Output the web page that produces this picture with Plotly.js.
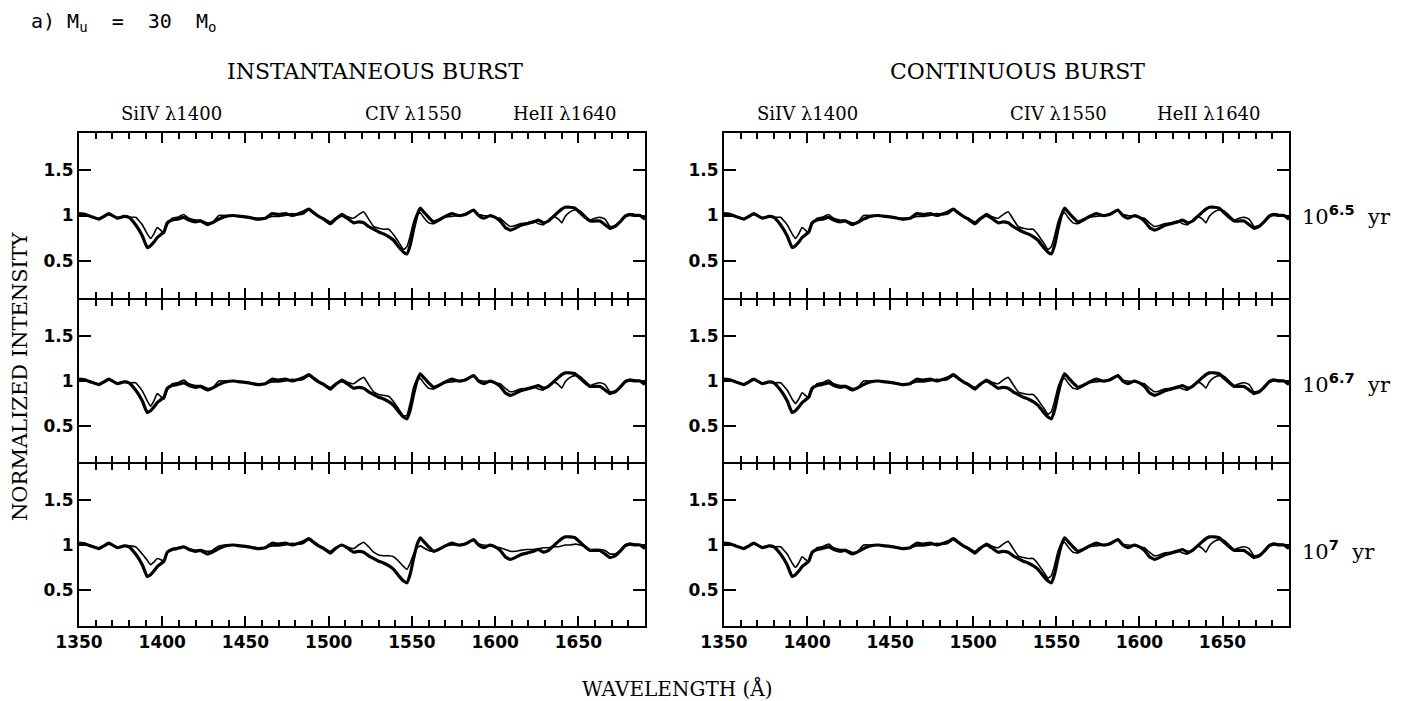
<!DOCTYPE html>
<html>
<head>
<meta charset="utf-8">
<script src="https://cdn.plot.ly/plotly-3.0.1.min.js"></script>
<style>
html,body{margin:0;padding:0;background:#fff;}
#chart{width:1403px;height:701px;}
</style>
</head>
<body>
<div id="chart"></div>
<script>
// ---- data ----
const wavelength = [
 1350,1354,1357,1362,1365,1368,1373,1377,1380,1384,
 1388,1391,1393,1395,1397,1399,1401,1403,1406,1409,
 1413,1416,1420,1423,1427,1430,1434,1438,1443,1447,
 1452,1457,1462,1466,1470,1474,1478,1482,1485,1488,
 1491,1494,1497,1501,1504,1508,1511,1515,1518,1521,
 1524,1527,1530,1533,1536,1539,1542,1545,1547,1549,
 1551,1553,1555,1557,1560,1563,1566,1570,1574,1578,
 1582,1587,1590,1593,1597,1600,1603,1606,1609,1612,
 1615,1619,1623,1626,1629,1632,1635,1638,1640,1642,
 1645,1648,1651,1654,1657,1660,1663,1666,1669,1672,
 1675,1678,1681,1684,1687,1690];

// thick curve (same in all panels)
const thickSpectrum = [
 1.02,1.01,0.99,0.96,0.99,1.02,0.97,0.99,0.98,0.90,
 0.78,0.65,0.67,0.71,0.76,0.79,0.82,0.92,0.95,0.96,
 0.98,0.95,0.93,0.94,0.90,0.92,0.96,0.99,1.00,0.99,
 0.98,0.96,0.97,1.02,1.01,1.02,1.00,1.02,1.04,1.07,
 1.03,0.99,0.96,0.91,0.96,1.00,0.97,0.92,0.93,0.92,
 0.88,0.85,0.82,0.80,0.77,0.73,0.66,0.60,0.58,0.68,
 0.85,1.00,1.08,1.04,0.98,0.93,0.95,0.99,1.02,1.00,
 1.01,1.06,1.00,0.97,1.00,0.98,0.94,0.87,0.84,0.86,
 0.89,0.91,0.93,0.95,0.92,0.94,0.99,1.04,1.07,1.09,
 1.09,1.08,1.03,0.98,0.94,0.94,0.94,0.90,0.86,0.88,
 0.93,0.99,1.01,1.00,1.00,0.96];

// thin curves
const thinInst65 = [
 1.01,1.01,0.99,0.97,0.99,1.01,0.98,0.99,0.98,0.98,
 0.90,0.80,0.75,0.80,0.87,0.84,0.81,0.90,0.97,0.98,
 1.01,0.97,0.95,0.95,0.92,0.92,1.00,1.00,1.00,0.99,
 0.98,0.97,0.97,0.99,0.99,1.00,1.02,1.01,1.02,1.06,
 1.02,0.99,0.97,0.93,0.97,1.02,0.99,0.97,1.01,1.04,
 0.96,0.88,0.86,0.85,0.85,0.79,0.71,0.63,0.66,0.78,
 0.93,1.01,1.03,0.98,0.92,0.91,0.94,0.98,0.99,1.00,
 1.02,1.06,1.01,1.00,0.99,0.98,0.97,0.92,0.88,0.89,
 0.91,0.92,0.94,0.91,0.90,0.95,0.99,0.96,0.92,0.99,
 1.04,1.06,1.05,1.00,0.95,0.97,0.98,0.96,0.88,0.89,
 0.93,1.00,1.02,1.01,1.00,0.97];

const thinInst67 = [
 1.01,1.01,0.99,0.97,0.99,1.01,0.98,0.99,0.98,0.98,
 0.89,0.78,0.72,0.78,0.86,0.83,0.80,0.90,0.97,0.98,
 1.01,0.97,0.95,0.95,0.92,0.92,1.00,1.00,1.00,0.99,
 0.98,0.97,0.97,0.99,0.99,1.00,1.02,1.01,1.02,1.06,
 1.02,0.99,0.97,0.93,0.97,1.02,0.99,0.97,1.01,1.04,
 0.96,0.88,0.85,0.84,0.83,0.77,0.69,0.61,0.62,0.76,
 0.93,1.01,1.03,0.98,0.92,0.91,0.94,0.98,0.99,1.00,
 1.02,1.06,1.01,1.00,0.99,0.98,0.97,0.92,0.88,0.89,
 0.91,0.92,0.94,0.91,0.90,0.95,0.99,0.96,0.92,0.99,
 1.04,1.06,1.05,1.00,0.95,0.97,0.98,0.96,0.88,0.89,
 0.93,1.00,1.02,1.01,1.00,0.97];

const thinInst7 = [
 1.01,1.01,0.99,0.97,0.99,1.01,0.98,0.99,0.99,0.98,
 0.90,0.83,0.78,0.81,0.85,0.84,0.82,0.92,0.96,0.97,
 0.98,0.96,0.94,0.95,0.93,0.94,0.99,1.00,1.00,0.99,
 0.98,0.97,0.97,0.99,0.99,1.00,1.02,1.01,1.02,1.06,
 1.02,0.99,0.97,0.93,0.97,1.00,0.98,0.96,1.00,1.03,
 0.98,0.92,0.89,0.88,0.88,0.87,0.82,0.76,0.73,0.80,
 0.90,0.97,0.99,0.97,0.94,0.93,0.95,0.99,1.00,1.00,
 1.02,1.05,1.01,1.00,0.99,0.98,0.97,0.95,0.93,0.93,
 0.94,0.95,0.95,0.96,0.97,0.97,0.98,0.98,0.99,1.00,
 1.00,1.01,1.00,0.98,0.95,0.95,0.95,0.94,0.90,0.90,
 0.94,1.00,1.02,1.01,1.00,0.97];

const thinCont = thinInst65; // continuous-burst panels look the same

const panelThin = [thinInst65, thinCont, thinInst67, thinCont, thinInst7, thinCont];
const yTickVals = [0.5,1,1.5];
const yTickText = ['0.5','1','1.5'];
const columnTitles = ['INSTANTANEOUS BURST','CONTINUOUS BURST'];
const lineLabels = ['SiIV \u03bb1400','CIV \u03bb1550','HeII \u03bb1640'];
const ageLabels = ['6.5','6.7','7'];

// ---- layout geometry ----
const W = 1403, H = 701;
const colPx = [[79,645],[724,1289]];
const rowPx = [[133,298],[300,462],[464,626]];
const fx = p => p / W;
const fy = p => 1 - p / H;

const traces = [];
const layout = {
  width: W, height: H,
  margin: {l:0, r:0, t:0, b:0},
  paper_bgcolor: '#fff', plot_bgcolor: 'rgba(0,0,0,0)',
  showlegend: false,
  annotations: []
};

function tickFont() { return {family: 'DejaVu Sans', size: 17, color: '#000', weight: 'bold'}; }

for (let r = 0; r < 3; r++) {
  for (let c = 0; c < 2; c++) {
    const i = r * 2 + c + 1;
    const xa = i === 1 ? 'xaxis' : 'xaxis' + i;
    const ya = i === 1 ? 'yaxis' : 'yaxis' + i;
    const xr = i === 1 ? 'x' : 'x' + i;
    const yr = i === 1 ? 'y' : 'y' + i;
    layout[xa] = {
      domain: [fx(colPx[c][0]), fx(colPx[c][1])],
      anchor: yr,
      range: [1350, 1690],
      tickmode: 'linear', tick0: 1350, dtick: 50,
      ticks: 'inside', ticklen: 10, tickwidth: 2, tickcolor: '#000',
      minor: {dtick: 10, ticks: 'inside', ticklen: 6, tickwidth: 1.5, tickcolor: '#000'},
      mirror: 'ticks', showline: true, linewidth: 2, linecolor: '#000',
      showgrid: false, zeroline: false,
      showticklabels: r === 2,
      tickfont: tickFont()
    };
    layout[ya] = {
      domain: [fy(rowPx[r][1]), fy(rowPx[r][0])],
      anchor: xr,
      range: [0.1, 1.9],
      tickmode: 'array', tickvals: yTickVals, ticktext: yTickText,
      ticks: 'inside', ticklen: 12, tickwidth: 2, tickcolor: '#000',
      mirror: 'ticks', showline: true, linewidth: 2, linecolor: '#000',
      showgrid: false, zeroline: false,
      tickfont: tickFont()
    };
    traces.push({
      x: wavelength, y: panelThin[i - 1], xaxis: xr, yaxis: yr,
      mode: 'lines', line: {color: '#000', width: 1.6, shape: 'spline', smoothing: 0.4},
      hoverinfo: 'skip'
    });
    traces.push({
      x: wavelength, y: thickSpectrum, xaxis: xr, yaxis: yr,
      mode: 'lines', line: {color: '#000', width: 3.2, shape: 'spline', smoothing: 0.4},
      hoverinfo: 'skip'
    });
  }
}

const serif = 'DejaVu Serif';
function ann(text, px, py, size, opts) {
  layout.annotations.push(Object.assign({
    text: text, xref: 'paper', yref: 'paper', x: fx(px), y: fy(py),
    showarrow: false, xanchor: 'center', yanchor: 'middle',
    font: {family: serif, size: size, color: '#000'}
  }, opts || {}));
}

ann('a)&nbsp;M<sub>u</sub>&nbsp;&nbsp;=&nbsp;&nbsp;30&nbsp;&nbsp;M<sub>o</sub>', 29, 22, 20,
    {xanchor: 'left', font: {family: 'DejaVu Sans Mono', size: 20, color: '#000'}});

ann(columnTitles[0], 375, 72, 22);
ann(columnTitles[1], 1017, 72, 22);

const linePx = [[171, 413, 565], [807, 1058, 1209]];
for (let c = 0; c < 2; c++) {
  for (let k = 0; k < 3; k++) {
    ann(lineLabels[k], linePx[c][k], 113, 18);
  }
}

const ageY = [215, 383, 550];
for (let r = 0; r < 3; r++) {
  ann('10<sup><span style="font-family:DejaVu Sans;font-weight:bold">' + ageLabels[r] + '</span></sup>&nbsp;&nbsp;yr',
      1300, ageY[r], 21, {xanchor: 'left'});
}

ann('NORMALIZED INTENSITY', 20, 376, 21, {textangle: -90});
ann('WAVELENGTH (\u00c5)', 677, 688, 20);

Plotly.newPlot('chart', traces, layout, {displayModeBar: false});
</script>
</body>
</html>
